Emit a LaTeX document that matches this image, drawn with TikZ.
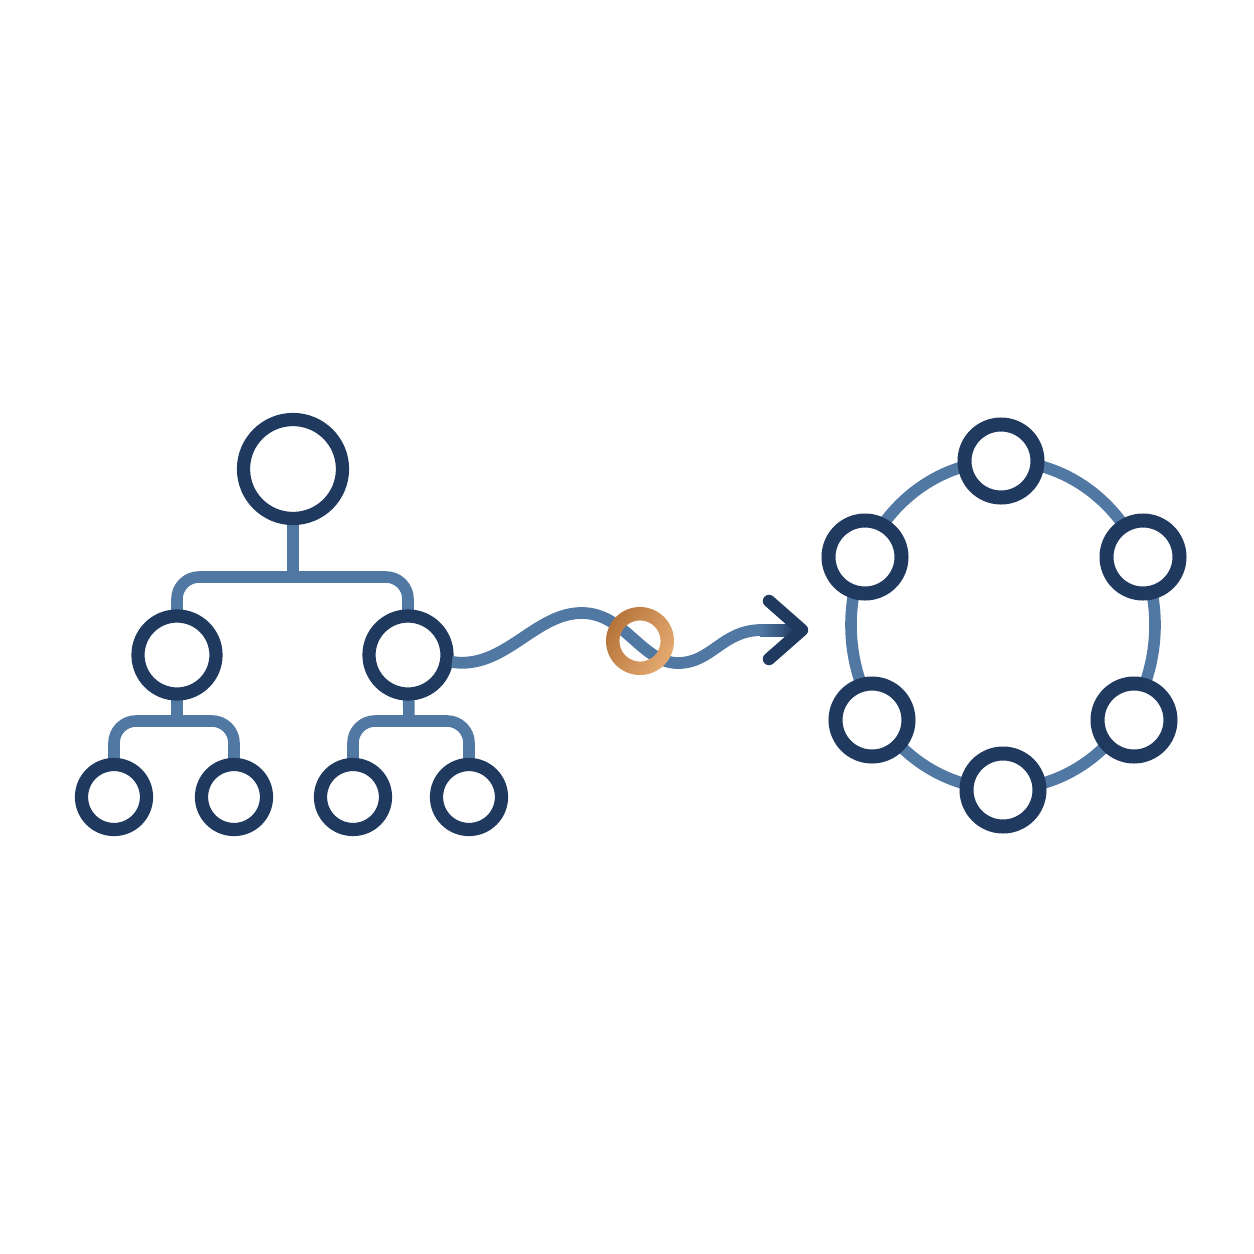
\documentclass[tikz,border=0pt]{standalone}
\begin{document}
\begin{tikzpicture}[x=0.5pt,y=-0.5pt,
  navyline/.style={draw=navy, line width=6.6pt, circle, fill=white, inner sep=0pt},
  rootnode/.style={navyline, minimum size=49.5pt},
  midnode/.style={navyline, minimum size=39pt},
  leafnode/.style={navyline, minimum size=32.5pt},
  ringnode/.style={navyline, line width=7pt, minimum size=36.5pt},
  conn/.style={draw=linkblue, line width=5.8pt, rounded corners=11pt},
  arrowpart/.style={draw=navy, line width=6.2pt, line cap=round, line join=round}]
\definecolor{navy}{RGB}{31,57,95}
\definecolor{linkblue}{RGB}{80,120,163}
\definecolor{copperdark}{RGB}{182,116,58}
\definecolor{copperlight}{RGB}{228,170,112}
\useasboundingbox[fill=white] (0,0) rectangle (1254,1254);

% junction coordinates
\coordinate (j1) at (293,577);
\coordinate (j2) at (177,721);
\coordinate (j3) at (409,721);

% tree connectors
\draw[conn] (293,469) -- (j1);
\draw[conn] (177,655) |- (j1) -| (408,655);
\draw[conn] (177,655) -- (j2);
\draw[conn] (114,797) |- (j2) -| (234,797);
\draw[conn] (408,655) -- (j3);
\draw[conn] (353,797) |- (j3) -| (469,797);

% tree nodes
\node[rootnode] (root) at (293,469) {};
\node[midnode] (ma) at (177,655) {};
\node[midnode] (mb) at (408,655) {};
\node[leafnode] (la) at (114,797) {};
\node[leafnode] (lb) at (234,797) {};
\node[leafnode] (lc) at (353,797) {};
\node[leafnode] (ld) at (469,797) {};

% wavy connector
\coordinate (ws) at (452,662);
\coordinate (we) at (762,630);
\coordinate (tip) at (802,630);
\draw[draw=linkblue, line width=5.9pt] (ws) .. controls (505,670) and (535,612) .. (583,613)
  .. controls (625,614) and (642,663) .. (678,663)
  .. controls (712,663) and (722,630) .. (we);
\shade[left color=linkblue, right color=navy] (760,624) rectangle (797,636);
\draw[arrowpart] (769,601) -- (tip) -- (769,659);

% copper ring
\shade[even odd rule, left color=copperdark, right color=copperlight, shading angle=60]
  (640,641) circle[radius=17pt] (640,641) circle[radius=10.3pt];

% ring of nodes
\draw[draw=linkblue, line width=5.8pt] (1003,625) ellipse[x radius=76pt, y radius=82pt];
\node[ringnode] (rt) at (1001,461) {};
\node[ringnode] (rul) at (865,557) {};
\node[ringnode] (rur) at (1143,557) {};
\node[ringnode] (rll) at (872,720) {};
\node[ringnode] (rlr) at (1134,720) {};
\node[ringnode] (rb) at (1003,790) {};
\end{tikzpicture}
\end{document}
